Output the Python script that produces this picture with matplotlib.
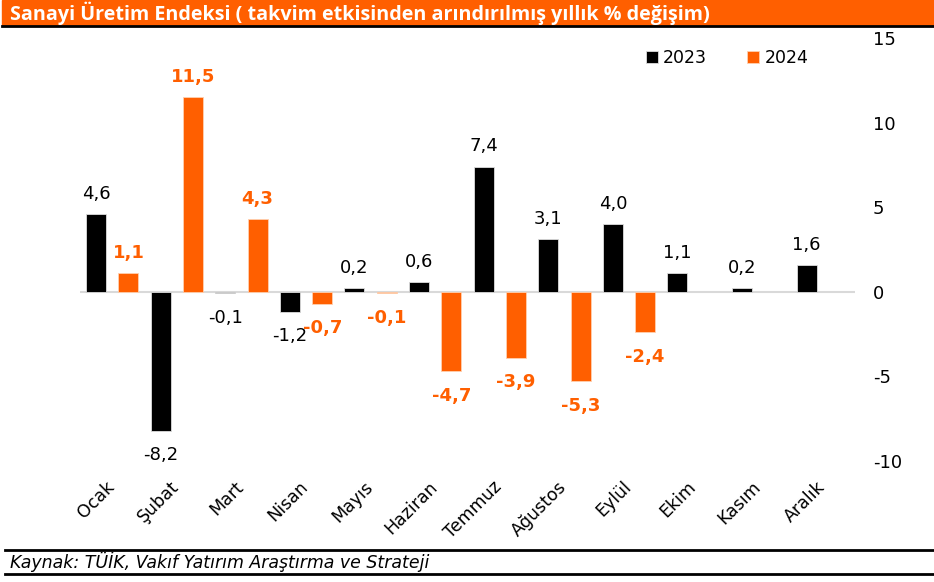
import matplotlib
matplotlib.use('Agg')
import matplotlib.pyplot as plt
from matplotlib.transforms import ScaledTranslation
import numpy as np

months = ['Ocak', 'Şubat', 'Mart', 'Nisan', 'Mayıs', 'Haziran', 'Temmuz',
          'Ağustos', 'Eylül', 'Ekim', 'Kasım', 'Aralık']
v2023 = [4.6, -8.2, -0.1, -1.2, 0.2, 0.6, 7.4, 3.1, 4.0, 1.1, 0.2, 1.6]
v2024 = [1.1, 11.5, 4.3, -0.7, -0.1, -4.7, -3.9, -5.3, -2.4]
yticks = [-10, -5, 0, 5, 10, 15]

orange = '#ff5f00'
plt.rcParams['font.family'] = ['DejaVu Sans']
plt.rcParams['axes.unicode_minus'] = False

fig = plt.figure(figsize=(9.34, 5.82), dpi=100)
ax = fig.add_axes([80/934, 1-461/582, 775/934, 423/582])

x = np.arange(len(months))
w = 0.31
b1 = ax.bar(x - 0.25, v2023, w, color='black', edgecolor='#dddddd', linewidth=0.6, label='2023', zorder=3)
b2 = ax.bar(x[:len(v2024)] + 0.25, v2024, w, color=orange, edgecolor='#ffd0b0', linewidth=0.6, label='2024', zorder=3)

def lab(bars, vals, color, weight):
    for b, v in zip(bars, vals):
        off = 8 if v >= 0 else -11
        ax.annotate(f'{v:.1f}'.replace('.', ','), (b.get_x() + b.get_width()/2, v),
                    xytext=(0, off), textcoords='offset points', ha='center',
                    va='bottom' if v >= 0 else 'top', fontsize=13, color=color,
                    fontweight=weight)

lab(b1, v2023, 'black', 'normal')
lab(b2, v2024, orange, 'bold')

ax.axhline(0, color='#d9d9d9', linewidth=1.5, zorder=2)
ax.set_xlim(-0.5, 11.5)
ax.set_ylim(-10, 15)
ax.yaxis.tick_right()
ax.set_yticks(yticks)
ax.tick_params(axis='y', length=0, pad=13, labelsize=13)
ax.set_xticks(x)
ax.set_xticklabels(months, rotation=45, ha='right', rotation_mode='anchor', fontsize=12.5)
ax.tick_params(axis='x', length=0, pad=12)
shift = ScaledTranslation(-5/72, 0, fig.dpi_scale_trans)
for t in ax.get_xticklabels():
    t.set_transform(t.get_transform() + shift)
for s in ax.spines.values():
    s.set_visible(False)

ax.legend(loc='upper right', bbox_to_anchor=(0.96, 1.01), ncol=2, frameon=False,
          fontsize=12.5, handlelength=0.7, handleheight=0.7, handletextpad=0.3,
          columnspacing=2.3)

# title bar
fig.patches.append(plt.Rectangle((2/934, 1-25/582), 932/934, 25/582,
                                 transform=fig.transFigure, color=orange, zorder=0))
fig.add_artist(plt.Line2D([2/934, 1], [1-26/582, 1-26/582], color='black', linewidth=2))
fig.text(10/934, 1-13.5/582, 'Sanayi Üretim Endeksi ( takvim etkisinden arındırılmış yıllık % değişim)',
         color='white', fontsize=14.2, fontweight='bold', va='center', ha='left',
         family=['Open Sans', 'DejaVu Sans'])

# source
fig.add_artist(plt.Line2D([5/934, 1], [1-550/582, 1-550/582], color='black', linewidth=2))
fig.add_artist(plt.Line2D([5/934, 1], [1-574/582, 1-574/582], color='black', linewidth=2))
fig.text(10/934, 1-562/582, 'Kaynak: TÜİK, Vakıf Yatırım Araştırma ve Strateji',
         fontsize=12.5, style='italic', va='center', ha='left',
         family=['DejaVu Sans'])

fig.savefig('out.png', dpi=100)
